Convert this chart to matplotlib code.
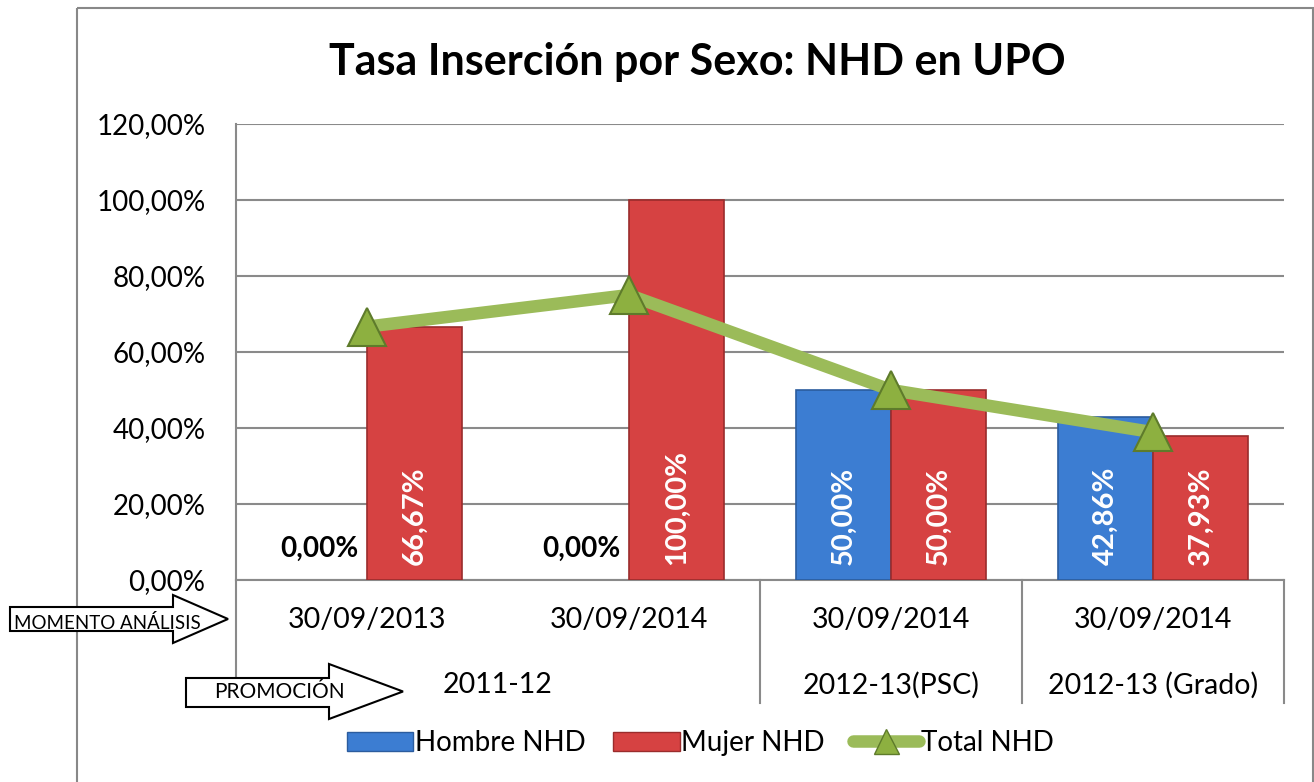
import matplotlib
matplotlib.use("Agg")
import matplotlib.pyplot as plt
from matplotlib.patches import Polygon, Rectangle
from matplotlib.lines import Line2D
import matplotlib.transforms as mtransforms
import numpy as np

plt.rcParams['font.family'] = ['Lato', 'DejaVu Sans']

# data
fechas = ["30/09/2013", "30/09/2014", "30/09/2014", "30/09/2014"]
promociones = ["2011-12", "2012-13(PSC)", "2012-13 (Grado)"]
promo_span = [2, 1, 1]  # how many categories each promotion covers
hombre = [0.00, 0.00, 50.00, 42.86]
mujer = [66.67, 100.00, 50.00, 37.93]
total = [66.67, 75.00, 50.00, 38.89]

azul = "#3C7DD2"
rojo = "#D64242"
verde = "#9BBB59"

W, H = 1314, 782
fig = plt.figure(figsize=(W / 100, H / 100), dpi=100)

# chart frame drawn in a full-figure pixel axes
bg = fig.add_axes([0, 0, 1, 1], zorder=-1)
bg.set_xlim(0, W)
bg.set_ylim(H, 0)
bg.axis("off")
bg.add_patch(Rectangle((77, 8), 1236, 800, fill=False, ec="#888888", lw=1.5))

ax = fig.add_axes([236 / W, 1 - 580 / H, (1284 - 236) / W, (580 - 124) / H])
x = np.arange(len(fechas))
bw = 0.363

# no outline on zero-height bars (otherwise a thin line shows on the axis)
ax.bar(x - bw / 2, hombre, bw, color=azul, edgecolor="#2B5C9E",
       lw=[1.2 if v > 0 else 0 for v in hombre], zorder=3, label="Hombre NHD")
ax.bar(x + bw / 2, mujer, bw, color=rojo, edgecolor="#9A2C2C",
       lw=[1.2 if v > 0 else 0 for v in mujer], zorder=3, label="Mujer NHD")
ax.plot(x, total, color=verde, lw=9, marker="^", markersize=27,
        markerfacecolor="#8DB040", markeredgecolor="#5E7B2B", markeredgewidth=1.5,
        zorder=4, label="Total NHD")

ax.set_xlim(-0.5, len(fechas) - 0.5)
ax.set_ylim(0, 120)
ax.set_yticks(np.arange(0, 121, 20))
ax.set_yticklabels([f"{v:.2f}".replace(".", ",") + "%" for v in np.arange(0, 121, 20)], fontsize=20)
ax.tick_params(axis="y", length=0, pad=22)
ax.set_xticks([])
ax.yaxis.grid(True, color="#8A8A8A", lw=1.5, zorder=0)
ax.set_axisbelow(True)
for s in ["top", "right"]:
    ax.spines[s].set_visible(False)
ax.spines["left"].set_color("#8A8A8A")
ax.spines["bottom"].set_color("#8A8A8A")
ax.spines["left"].set_linewidth(1.5)
ax.spines["bottom"].set_linewidth(1.5)

# data labels
def fmt(v):
    return f"{v:.2f}".replace(".", ",") + "%"

for i in x:
    for off, vals in ((-bw / 2, hombre), (bw / 2, mujer)):
        v = vals[i]
        if v == 0:
            ax.annotate(fmt(v), (i + off, 0), xytext=(0, 13), textcoords="offset points",
                        ha="center", va="bottom", fontsize=20, fontweight="bold", color="black")
        else:
            ax.annotate(fmt(v), (i + off, 0), xytext=(0, 11), textcoords="offset points",
                        ha="center", va="bottom", rotation=90, fontsize=21,
                        fontweight="bold", color="white", zorder=5)

# multi-level category axis
trans = mtransforms.blended_transform_factory(ax.transData, ax.transAxes)
y_sep = (580 - 703) / (580 - 124)
for i, f in enumerate(fechas):
    ax.text(i, (580 - 620) / (580 - 124), f, transform=trans, ha="center", va="center", fontsize=20.5)
start = 0
edges = [-0.5]
for p, n in zip(promociones, promo_span):
    centre = start - 0.5 + n / 2
    ax.text(centre, (580 - 685) / (580 - 124), p, transform=trans, ha="center", va="center", fontsize=20.5)
    start += n
    edges.append(start - 0.5)
for e in edges:
    ax.plot([e, e], [0, y_sep], transform=trans, color="#8A8A8A", lw=1.5, clip_on=False)

# arrows
top = fig.add_axes([0, 0, 1, 1], zorder=10)
top.set_xlim(0, W)
top.set_ylim(H, 0)
top.axis("off")
top.patch.set_alpha(0)

def arrow(x0, xb, xt, yb0, yb1, yh0, yh1, label, tx, ty, fs):
    pts = [(x0, yb0), (xb, yb0), (xb, yh0), (xt, (yh0 + yh1) / 2), (xb, yh1), (xb, yb1), (x0, yb1)]
    top.add_patch(Polygon(pts, closed=True, fc="white", ec="black", lw=1.5))
    top.text(tx, ty, label, ha="left", va="center", fontsize=fs)

arrow(10, 173, 228, 607, 631, 595, 643, "MOMENTO ANÁLISIS", 14, 623, 13.5)
arrow(186, 329, 403, 678, 707, 664, 719, "PROMOCIÓN", 214, 692, 15)

fig.text(697 / W, 1 - 62 / H, "Tasa Inserción por Sexo: NHD en UPO", ha="center", va="center",
         fontsize=31, fontweight="bold")

handles = [Rectangle((0, 0), 1, 1, fc=azul, ec="#2B5C9E"),
           Rectangle((0, 0), 1, 1, fc=rojo, ec="#9A2C2C"),
           Line2D([], [], color=verde, lw=9, marker="^", markersize=18, solid_capstyle="round",
                  markerfacecolor="#8DB040", markeredgecolor="#5E7B2B")]
fig.legend(handles, ["Hombre NHD", "Mujer NHD", "Total NHD"], loc="center",
           bbox_to_anchor=(700 / W, 1 - 743 / H), ncol=3, frameon=False, fontsize=20,
           handlelength=2.4, handletextpad=0.05, columnspacing=1.0)

fig.savefig("out.png", dpi=100)
